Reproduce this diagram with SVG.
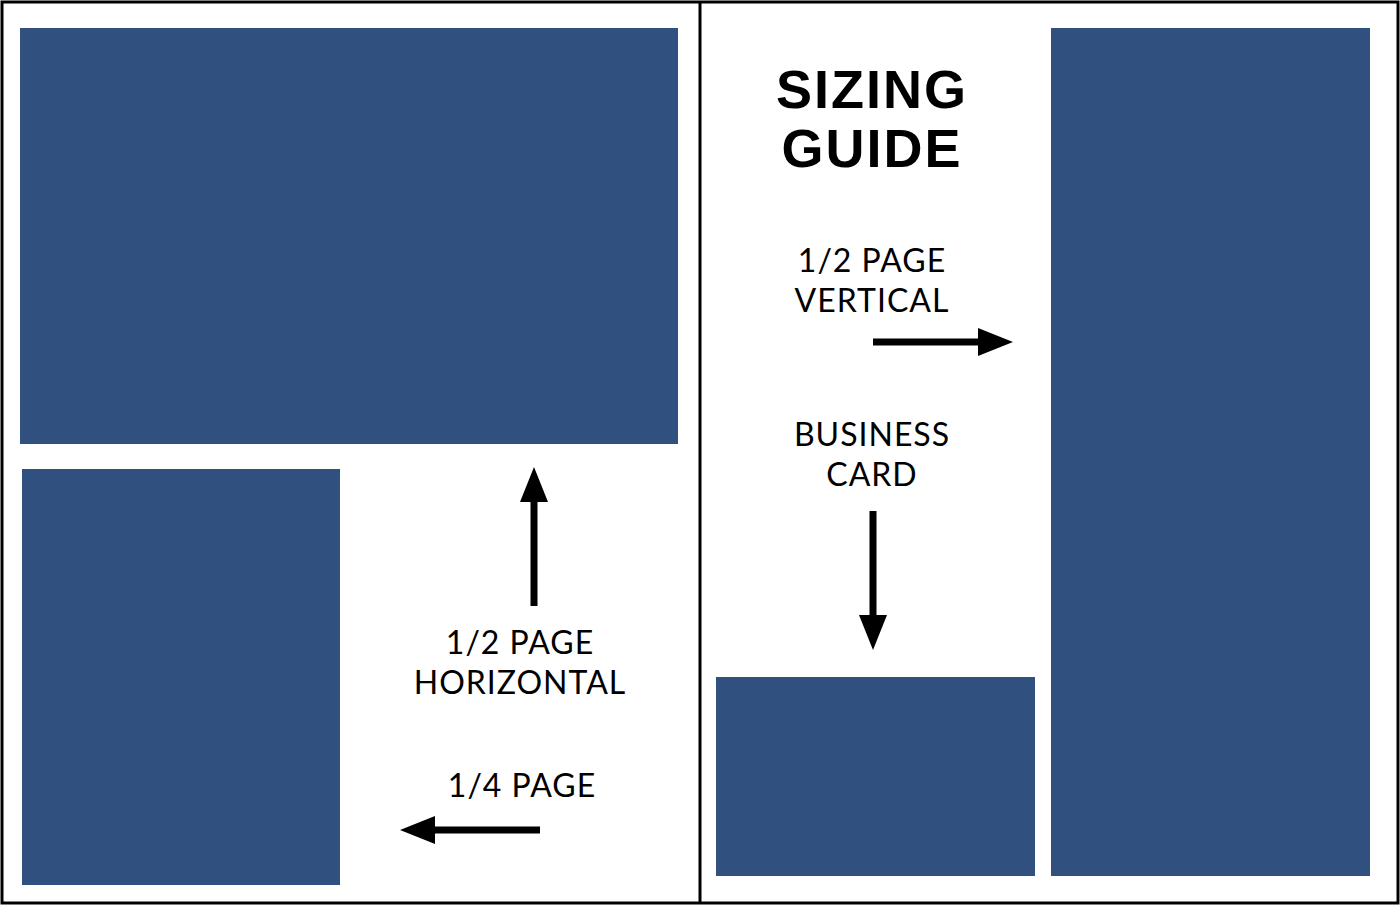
<svg xmlns="http://www.w3.org/2000/svg" width="1400" height="905" viewBox="0 0 1400 905">
<style>
.blk{fill:#30507f}
.lbl{font-family:Lato,"Liberation Sans",sans-serif;font-size:32px;fill:#000;text-anchor:middle;letter-spacing:1px}
.ttl{font-family:"Liberation Sans",sans-serif;font-weight:bold;font-size:54px;fill:#000;text-anchor:middle;letter-spacing:2px}
.ln{stroke:#000;stroke-width:7}
</style>
<rect x="0" y="0" width="1400" height="905" fill="#fff"/>
<rect x="2" y="2" width="1396" height="901" fill="none" stroke="#000" stroke-width="3"/>
<line x1="700" y1="2" x2="700" y2="903" stroke="#000" stroke-width="3"/>
<g id="half-horizontal"><rect class="blk" x="20" y="28" width="658" height="416"/></g>
<g id="quarter-page"><rect class="blk" x="22" y="469" width="318" height="416"/></g>
<g id="business-card"><rect class="blk" x="716" y="677" width="319" height="199"/></g>
<g id="half-vertical"><rect class="blk" x="1051" y="28" width="319" height="848"/></g>
<g id="title"><text class="ttl" x="872" y="108">SIZING</text><text class="ttl" x="872" y="167">GUIDE</text></g>
<g id="labels">
<text class="lbl" x="872" y="272">1/2 PAGE</text><text class="lbl" x="872" y="312">VERTICAL</text>
<text class="lbl" x="872" y="446">BUSINESS</text><text class="lbl" x="872" y="486">CARD</text>
<text class="lbl" x="520" y="654">1/2 PAGE</text><text class="lbl" x="520" y="694">HORIZONTAL</text>
<text class="lbl" x="522" y="797">1/4 PAGE</text>
</g>
<g id="connectors">
<line class="ln" x1="873" y1="342" x2="982" y2="342"/><polygon points="1013,342 978,328 978,356"/>
<line class="ln" x1="873" y1="511" x2="873" y2="620"/><polygon points="873,650 859,615 887,615"/>
<line class="ln" x1="534" y1="606" x2="534" y2="497"/><polygon points="534,467 520,502 548,502"/>
<line class="ln" x1="540" y1="830" x2="430" y2="830"/><polygon points="400,830 435,816 435,844"/>
</g>
</svg>
